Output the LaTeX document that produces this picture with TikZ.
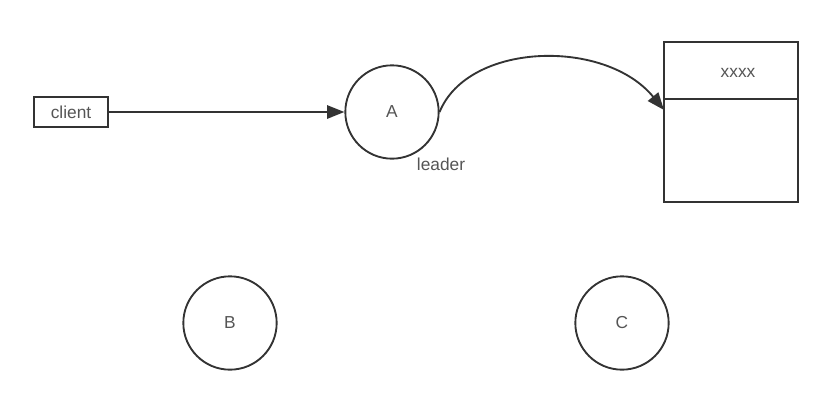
\documentclass[tikz,border=0pt]{standalone}
\usepackage{fontspec}
\setmainfont{Liberation Sans}
\usetikzlibrary{arrows.meta}
\definecolor{linegray}{HTML}{333333}
\definecolor{textgray}{HTML}{555555}
\tikzset{
  server/.style={draw=linegray,line width=1.4pt,circle,minimum size=70pt,inner sep=0pt,text=textgray},
  req/.style={draw=linegray,line width=1.4pt,-{Triangle[length=13pt,width=10pt]}}
}
\begin{document}
\begin{tikzpicture}[x=0.75pt,y=-0.75pt,font=\fontsize{13}{15}\selectfont]
  \useasboundingbox (0,0) rectangle (832,404);
  \node[draw=linegray,line width=1.4pt,minimum width=56pt,minimum height=23pt,text=textgray] (client) at (71,112) {client};
  \node[server] (A) at (392,112) {A};
  \node[server] (B) at (230,323) {B};
  \node[server] (C) at (622,323) {C};
  \node[text=textgray] (lead) at (441,164) {leader};
  \draw[linegray,line width=1.4pt] (664,42) rectangle (798,202);
  \draw[linegray,line width=1.4pt] (664,99) -- (798,99);
  \coordinate (log) at (664,110);
  \node[text=textgray] (xx) at (738,73) {xxxx};
  \draw[req] (client) -- (A);
  \draw[req] (A.east) .. controls (468,42) and (605,38) .. (log);
\end{tikzpicture}
\end{document}
